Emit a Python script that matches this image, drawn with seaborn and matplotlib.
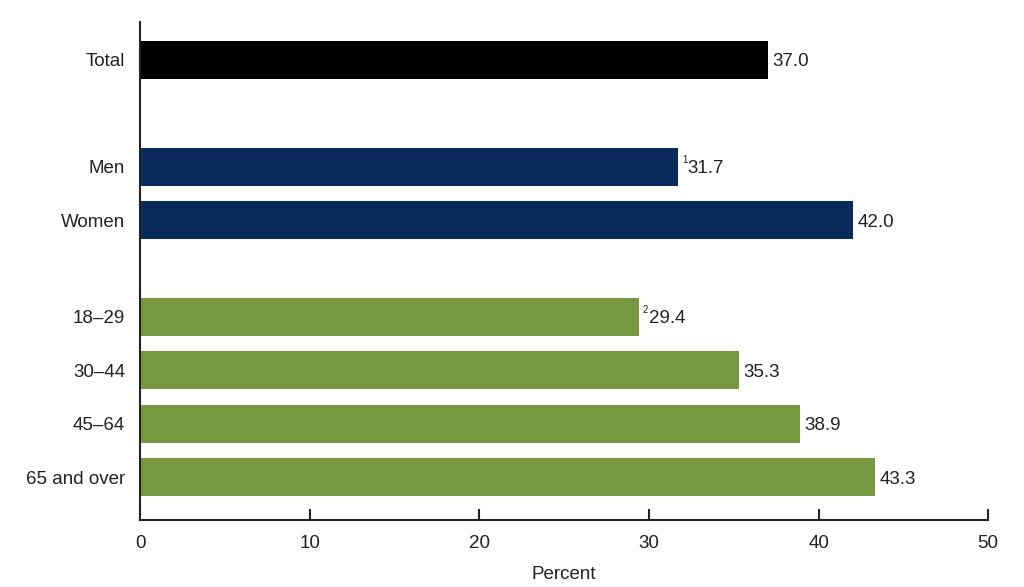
import matplotlib
matplotlib.use("Agg")
import matplotlib.pyplot as plt
import seaborn as sns
import pandas as pd

categories = ["Total", "Men", "Women", "18\u201329", "30\u201344", "45\u201364", "65 and over"]
values = [37.0, 31.7, 42.0, 29.4, 35.3, 38.9, 43.3]
groups = ["Total", "Sex", "Sex", "Age", "Age", "Age", "Age"]
notes = ["", "1", "", "2", "", "", ""]
x_ticks = [0, 10, 20, 30, 40, 50]

# layout positions (gaps between groups)
positions = [0, 2, 3, 4.8, 5.8, 6.8, 7.8]
palette = {"Total": "#000000", "Sex": "#0b2a5c", "Age": "#76983f"}

sns.set_theme(style="white")
plt.rcParams["font.family"] = ["Liberation Sans", "DejaVu Sans"]

FS = 13.5
TXT = "#222222"

df = pd.DataFrame({"cat": categories, "value": values, "group": groups, "pos": positions})

fig = plt.figure(figsize=(10.24, 5.87), dpi=100)
ax = fig.add_axes([0.137, 0.114, 0.828, 0.849])

sns.barplot(data=df, x="value", y="pos", hue="group", palette=palette, orient="h",
            native_scale=True, width=0.71, dodge=False, legend=False, ax=ax,
            linewidth=0, saturation=1)

ax.set_ylim(8.6, -0.71)
ax.set_xlim(0, 50)
ax.set_yticks(positions)
ax.set_yticklabels(categories, fontsize=FS, color=TXT)
ax.set_xticks(x_ticks)
ax.set_xticklabels([str(t) for t in x_ticks], fontsize=FS, color=TXT)
ax.tick_params(axis="y", length=0, pad=11)
ax.tick_params(axis="x", direction="in", length=8, width=1.5, color=TXT, pad=11, bottom=True)
ax.set_xlabel("Percent", fontsize=FS, color=TXT, labelpad=10)
ax.set_ylabel("")

for s in ["top", "right"]:
    ax.spines[s].set_visible(False)
for s in ["left", "bottom"]:
    ax.spines[s].set_color(TXT)
    ax.spines[s].set_linewidth(1.5)

for v, p, n in zip(values, positions, notes):
    if n:
        ax.annotate(n, xy=(v, p), xytext=(3, 1), textcoords="offset points",
                    fontsize=7, va="bottom", ha="left", color=TXT)
        ax.annotate(f"{v:.1f}", xy=(v, p), xytext=(7, -1.5), textcoords="offset points",
                    fontsize=FS, va="center", ha="left", color=TXT)
    else:
        ax.annotate(f"{v:.1f}", xy=(v, p), xytext=(3.5, -1.5), textcoords="offset points",
                    fontsize=FS, va="center", ha="left", color=TXT)

fig.savefig("out.png", dpi=100)
